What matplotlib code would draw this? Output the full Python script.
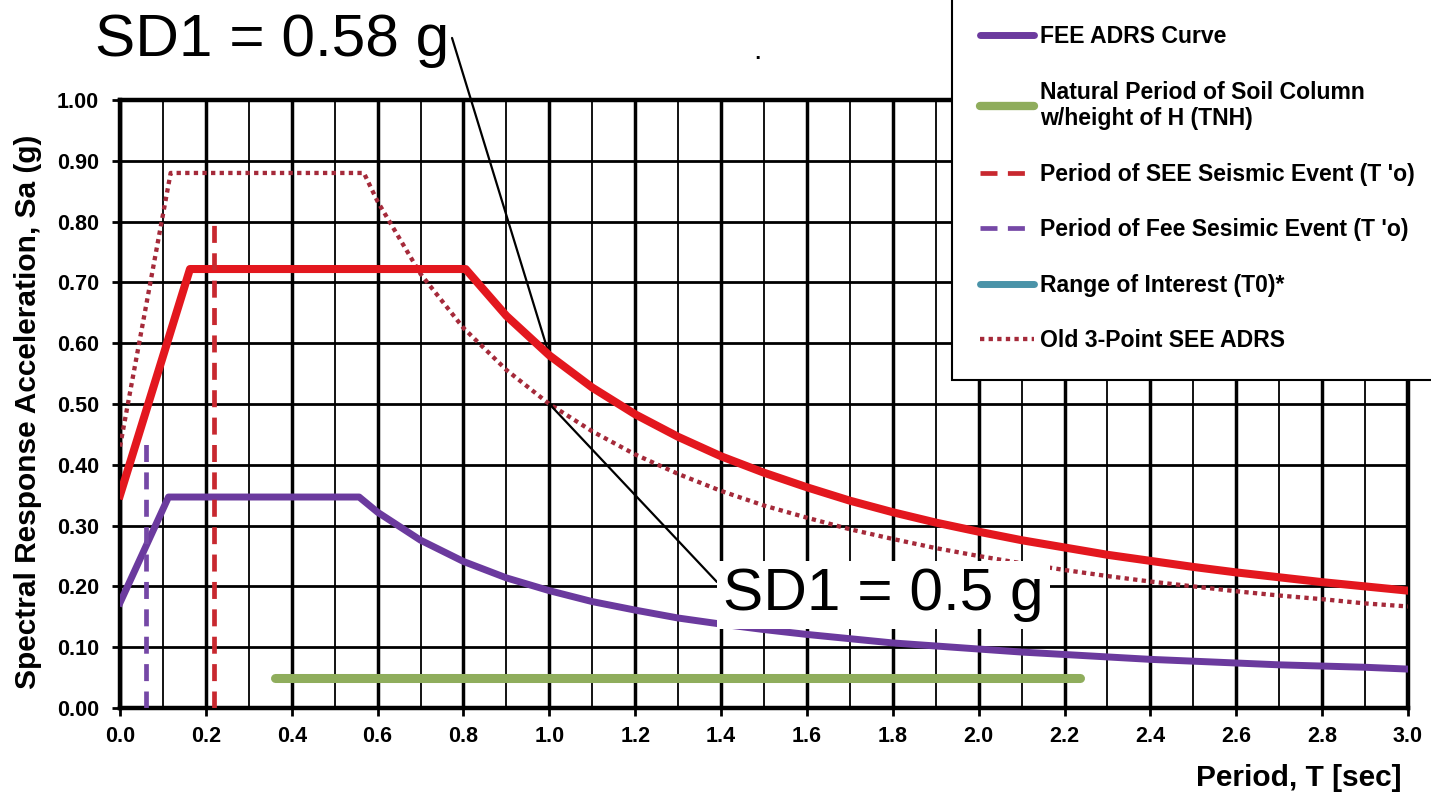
import numpy as np
import matplotlib.pyplot as plt
from matplotlib.lines import Line2D
from matplotlib.ticker import MultipleLocator, FormatStrFormatter

plt.rcParams['font.family'] = ['Liberation Sans', 'DejaVu Sans']

# SEE ADRS curve (red, SD1 = 0.58 g)
see_T = [0.0, 0.163, 0.805, 0.9, 1.0, 1.1, 1.2, 1.3, 1.4, 1.5, 1.6, 1.7, 1.8, 1.9,
         2.0, 2.1, 2.2, 2.3, 2.4, 2.5, 2.6, 2.7, 2.8, 2.9, 3.0]
see_Sa = [0.35, 0.722, 0.722, 0.645, 0.58, 0.527, 0.483, 0.446, 0.414, 0.387, 0.363,
          0.341, 0.322, 0.305, 0.29, 0.276, 0.264, 0.252, 0.242, 0.232, 0.223, 0.215,
          0.207, 0.2, 0.193]

# FEE ADRS curve (purple)
fee_T = [0.0, 0.113, 0.557, 0.6, 0.7, 0.8, 0.9, 1.0, 1.1, 1.2, 1.3, 1.4, 1.5, 1.6, 1.7,
         1.8, 1.9, 2.0, 2.1, 2.2, 2.3, 2.4, 2.5, 2.6, 2.7, 2.8, 2.9, 3.0]
fee_Sa = [0.173, 0.347, 0.347, 0.322, 0.276, 0.241, 0.214, 0.193, 0.175, 0.161, 0.148,
          0.138, 0.129, 0.121, 0.114, 0.107, 0.102, 0.097, 0.092, 0.088, 0.084, 0.08,
          0.077, 0.074, 0.071, 0.069, 0.067, 0.064]

# old 3-point SEE ADRS (dotted, SD1 = 0.5 g)
old_T = [0.0, 0.118, 0.568, 0.6, 0.7, 0.8, 0.9, 1.0, 1.1, 1.2, 1.3, 1.4, 1.5, 1.6, 1.7,
         1.8, 1.9, 2.0, 2.1, 2.2, 2.3, 2.4, 2.5, 2.6, 2.7, 2.8, 2.9, 3.0]
old_Sa = [0.43, 0.88, 0.88, 0.833, 0.714, 0.625, 0.556, 0.5, 0.455, 0.417, 0.385, 0.357,
          0.333, 0.313, 0.294, 0.278, 0.263, 0.25, 0.238, 0.227, 0.217, 0.208, 0.2,
          0.192, 0.185, 0.179, 0.172, 0.167]

# periods of the seismic events (vertical dashed lines)
see_To_T = [0.22, 0.22]
see_To_Sa = [0.0, 0.80]
fee_To_T = [0.06, 0.06]
fee_To_Sa = [0.0, 0.44]

# natural period of soil column
tnh_T = [0.36, 2.235]
tnh_Sa = [0.05, 0.05]

# colours
c_see = '#E3171E'
c_old = '#A52A3A'
c_see_dash = '#C8282F'
c_fee = '#6B3A9E'
c_fee_dash = '#7548A6'
c_tnh = '#8FAD5C'
c_roi = '#4A93A8'

fig = plt.figure(figsize=(14.31, 7.98), dpi=100)
ax = fig.add_axes([120/1431, 1-708/798, 1288/1431, 608/798])

ax.plot(tnh_T, tnh_Sa, color=c_tnh, lw=6.5, solid_capstyle='round', zorder=3)
ax.plot(old_T, old_Sa, color=c_old, lw=3.1, linestyle=(0, (1.0, 1.0)), zorder=3)
ax.plot(fee_T, fee_Sa, color=c_fee, lw=5, solid_joinstyle='round', zorder=4)
ax.plot(see_T, see_Sa, color=c_see, lw=5.8, solid_joinstyle='round', zorder=4)
ax.plot(fee_To_T, fee_To_Sa, color=c_fee_dash, lw=3.4, linestyle=(0, (3.6, 2.2)), zorder=5)
ax.plot(see_To_T, see_To_Sa, color=c_see_dash, lw=3.4, linestyle=(0, (3.6, 2.2)), zorder=5)

ax.set_xlim(0, 3.0)
ax.set_ylim(0, 1.0)
ax.xaxis.set_major_locator(MultipleLocator(0.2))
ax.xaxis.set_minor_locator(MultipleLocator(0.1))
ax.yaxis.set_major_locator(MultipleLocator(0.1))
ax.xaxis.set_major_formatter(FormatStrFormatter('%.1f'))
ax.yaxis.set_major_formatter(FormatStrFormatter('%.2f'))
ax.grid(which='major', axis='x', color='black', lw=2.5)
ax.grid(which='minor', axis='x', color='black', lw=1.3)
ax.grid(which='major', axis='y', color='black', lw=2.0)
ax.set_axisbelow(True)
ax.tick_params(which='major', length=6, width=2, direction='out', labelsize=15.5)
ax.tick_params(which='minor', length=0)
ax.tick_params(axis='x', pad=7)
ax.tick_params(axis='y', pad=9)
plt.setp(ax.get_xticklabels() + ax.get_yticklabels(), fontweight='bold')
for s in ax.spines.values():
    s.set_linewidth(3.2)

ax.set_ylabel('Spectral Response Acceleration, Sa (g)', fontsize=21.5, fontweight='bold')
ax.yaxis.set_label_coords(-78/1288, 0.487)
ax.set_xlabel('Period, T [sec]', fontsize=21.5, fontweight='bold', ha='right', va='center')
ax.xaxis.set_label_coords(1281/1288, -70/608)

# SD1 annotations
ax.annotate('SD1 = 0.58 g', xy=(1.0, 0.58), xycoords='data',
            xytext=(95/1431, 1-41/798), textcoords='figure fraction',
            ha='left', va='center', fontsize=43.5, annotation_clip=False,
            arrowprops=dict(arrowstyle='-', color='black', lw=1.6,
                            shrinkA=0, shrinkB=0, relpos=(1.0, 0.72)))
ax.annotate('SD1 = 0.5 g', xy=(1.0, 0.5), xycoords='data',
            xytext=(723/1431, 1-595/798), textcoords='figure fraction',
            ha='left', va='center', fontsize=43.5, zorder=10,
            bbox=dict(boxstyle='square,pad=0.1', fc='white', ec='none'),
            arrowprops=dict(arrowstyle='-', color='black', lw=1.6,
                            shrinkA=0, shrinkB=0, relpos=(0.0, 0.62)))
fig.text(753/1431, 1-59/798, '.', fontsize=22)

handles = [
    Line2D([], [], color=c_fee, lw=5, solid_capstyle='round'),
    Line2D([], [], color=c_tnh, lw=6, solid_capstyle='round'),
    Line2D([], [], color=c_see_dash, lw=3.4, linestyle=(0, (3.6, 2.2))),
    Line2D([], [], color=c_fee_dash, lw=3.4, linestyle=(0, (3.6, 2.2))),
    Line2D([], [], color=c_roi, lw=5, solid_capstyle='round'),
    Line2D([], [], color=c_old, lw=3.1, linestyle=(0, (1.0, 1.0))),
]
labels = ['FEE ADRS Curve',
          'Natural Period of Soil Column\nw/height of H (TNH)',
          "Period of SEE Seismic Event (T 'o)",
          "Period of Fee Sesimic Event (T 'o)",
          'Range of Interest (T0)*',
          'Old 3-Point SEE ADRS']
leg = fig.legend(handles, labels, loc='lower left', bbox_to_anchor=(952/1431, 1-380/798),
                 frameon=True, fancybox=False, edgecolor='black', framealpha=1,
                 prop=dict(weight='bold', size=16.6), handlelength=2.35, handletextpad=0.25,
                 labelspacing=1.41, borderpad=1.2, borderaxespad=0)
leg.get_frame().set_linewidth(1.5)

plt.savefig('out.png', dpi=100)
